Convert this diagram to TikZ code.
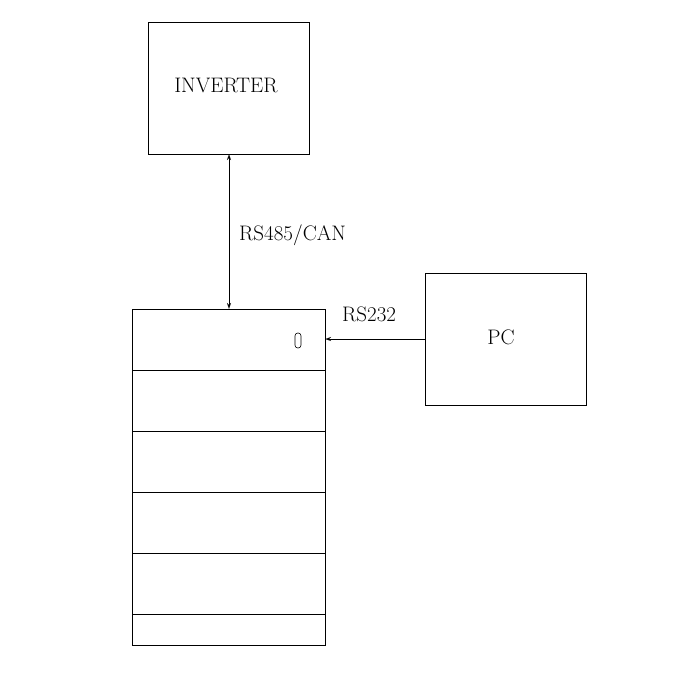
\documentclass[tikz,border=0pt]{standalone}
\usetikzlibrary{arrows.meta}
\begin{document}
\begin{tikzpicture}[x=1pt,y=-1pt,
  box/.style={draw,line width=0.8pt},
  lbl/.style={font=\fontsize{21}{22}\selectfont,inner sep=0pt},
  conn/.style={line width=0.6pt,-{Stealth[length=6pt,width=4pt,open]}}]
\useasboundingbox (0,0) rectangle (673,673);
\node[box,minimum width=161pt,minimum height=132pt,anchor=north west] (inv) at (148,22) {};
\node[lbl] (invt) at (226,85) {INVERTER};
\node[box,minimum width=161pt,minimum height=132pt,anchor=north west] (pc) at (425,273) {};
\node[lbl] (pct) at (501,337) {PC};
\node[box,minimum width=193pt,minimum height=336pt,anchor=north west] (bat) at (132,309) {};
\foreach \y in {370,431,492,553,614} \draw[line width=0.8pt] (132,\y) -- (325,\y);
\draw[line width=0.6pt,rounded corners=2.8pt] (295,333) rectangle (301,348);
\coordinate (ib) at (229,154);
\coordinate (bt) at (229,309);
\draw[line width=0.6pt,{Stealth[length=6pt,width=4pt,open]}-{Stealth[length=6pt,width=4pt,open]}] (ib) -- (bt);
\coordinate (pl) at (425,339);
\coordinate (br) at (325,339);
\draw[conn] (pl) -- (br);
\node[lbl,anchor=west] (rs485) at (239,235) {RS485/CAN};
\node[lbl,anchor=west] (rs232) at (342,314) {RS232};
\end{tikzpicture}
\end{document}
